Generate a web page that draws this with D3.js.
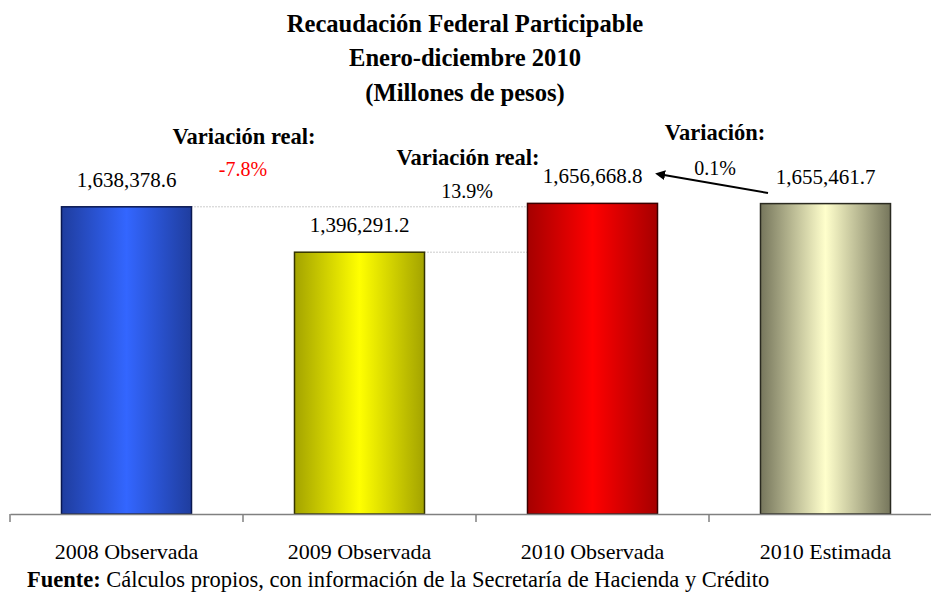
<!DOCTYPE html>
<html>
<head>
<meta charset="utf-8">
<script src="https://cdn.jsdelivr.net/npm/d3@7"></script>
<style>
  body { margin: 0; background: #fff; }
  text { font-family: "Liberation Serif", "DejaVu Serif", serif; fill: #000; }
</style>
</head>
<body>
<div id="graphic"></div>
<script>
(function() {
  var width = 931, height = 594;

  /*** DATA ***/
  var categories = ["2008 Observada", "2009 Observada", "2010 Observada", "2010 Estimada"];
  var values = [1638378.6, 1396291.2, 1656668.8, 1655461.7];
  var titleLines = ["Recaudación Federal Participable", "Enero-diciembre 2010", "(Millones de pesos)"];
  var variations = [
    { label: "Variación real:", value: "-7.8%", color: "#ff0000" },
    { label: "Variación real:", value: "13.9%", color: "#000" },
    { label: "Variación:", value: "0.1%", color: "#000" }
  ];
  // edge / centre colours for each bar's horizontal gradient
  var barColors = [
    { edge: "#1f3d9e", mid: "#3366ff", stroke: "#0a1850" },
    { edge: "#a3a300", mid: "#ffff00", stroke: "#333300" },
    { edge: "#a50000", mid: "#ff0000", stroke: "#3a0000" },
    { edge: "#76765c", mid: "#ffffcc", stroke: "#2a2a20" }
  ];

  var svg = d3.select("#graphic")
    .append("svg")
    .attr("width", width)
    .attr("height", height);

  /*** SCALES ***/
  var x = d3.scaleBand().domain(categories).range([10, 942]).padding(0);
  var y = d3.scaleLinear().domain([0, 2000000]).range([514, 139]);
  var barW = x.bandwidth() * 0.558;

  /*** GRADIENTS ***/
  var defs = svg.append("defs");
  barColors.forEach(function(c, i) {
    var g = defs.append("linearGradient")
      .attr("id", "grad" + i)
      .attr("x1", "0%").attr("x2", "100%").attr("y1", "0%").attr("y2", "0%");
    g.append("stop").attr("offset", "0%").attr("stop-color", c.edge);
    g.append("stop").attr("offset", "50%").attr("stop-color", c.mid);
    g.append("stop").attr("offset", "100%").attr("stop-color", c.edge);
  });

  defs.append("marker")
    .attr("id", "arrowhead")
    .attr("viewBox", "0 0 10 10")
    .attr("refX", 1).attr("refY", 5)
    .attr("markerWidth", 5).attr("markerHeight", 5)
    .attr("orient", "auto-start-reverse")
    .append("path")
    .attr("d", "M0,0 L10,5 L0,10 z")
    .attr("fill", "#000");

  /*** TITLE ***/
  svg.selectAll(".title")
    .data(titleLines).enter().append("text")
    .attr("class", "title")
    .attr("x", 465)
    .attr("y", function(d, i) { return [32, 66, 101][i]; })
    .attr("text-anchor", "middle")
    .style("font-size", "24.6px")
    .style("font-weight", "bold")
    .text(function(d) { return d; });

  /*** DOTTED GUIDE LINES ***/
  svg.append("line")
    .attr("x1", x(categories[0]) + (x.bandwidth() + barW) / 2)
    .attr("x2", x(categories[2]) + (x.bandwidth() - barW) / 2)
    .attr("y1", y(values[0])).attr("y2", y(values[0]))
    .attr("stroke", "#999").attr("stroke-width", 1).attr("stroke-dasharray", "1,2");
  svg.append("line")
    .attr("x1", x(categories[1]) + (x.bandwidth() + barW) / 2)
    .attr("x2", x(categories[2]) + (x.bandwidth() - barW) / 2)
    .attr("y1", y(values[1])).attr("y2", y(values[1]))
    .attr("stroke", "#999").attr("stroke-width", 1).attr("stroke-dasharray", "1,2");

  /*** BARS ***/
  svg.selectAll(".bar")
    .data(values).enter().append("rect")
    .attr("class", "bar")
    .attr("x", function(d, i) { return x(categories[i]) + (x.bandwidth() - barW) / 2; })
    .attr("y", function(d) { return y(d); })
    .attr("width", barW)
    .attr("height", function(d) { return y(0) - y(d); })
    .attr("fill", function(d, i) { return "url(#grad" + i + ")"; })
    .attr("stroke", function(d, i) { return barColors[i].stroke; })
    .attr("stroke-width", 1.5);

  /*** VALUE LABELS ***/
  svg.selectAll(".valLabel")
    .data(values).enter().append("text")
    .attr("class", "valLabel")
    .attr("x", function(d, i) { return x(categories[i]) + x.bandwidth() / 2; })
    .attr("y", function(d) { return y(d) - 20; })
    .attr("text-anchor", "middle")
    .style("font-size", "21px")
    .text(function(d) { return d3.format(",.1f")(d); });

  /*** AXIS ***/
  var axis = svg.append("g")
    .attr("transform", "translate(0," + y(0) + ")")
    .call(d3.axisBottom(x).tickSize(0).tickPadding(29));
  axis.select(".domain").attr("stroke", "#808080").attr("stroke-width", 1.5);
  axis.selectAll(".tick text")
    .style("font-size", "22px")
    .style("font-family", "'Liberation Serif', serif");

  axis.selectAll(".boundTick")
    .data(categories).enter().append("line")
    .attr("class", "boundTick")
    .attr("x1", function(d) { return x(d); })
    .attr("x2", function(d) { return x(d); })
    .attr("y1", 0).attr("y2", 8)
    .attr("stroke", "#808080").attr("stroke-width", 1.5);

  /*** VARIATION ANNOTATIONS ***/
  var annPos = [
    { lx: 244, ly: 144, vx: 243, vy: 176 },
    { lx: 468, ly: 165, vx: 467, vy: 198 },
    { lx: 715, ly: 140, vx: 715, vy: 175 }
  ];
  svg.selectAll(".annLabel")
    .data(variations).enter().append("text")
    .attr("class", "annLabel")
    .attr("x", function(d, i) { return annPos[i].lx; })
    .attr("y", function(d, i) { return annPos[i].ly; })
    .attr("text-anchor", "middle")
    .style("font-size", "22.5px")
    .style("font-weight", "bold")
    .text(function(d) { return d.label; });
  svg.selectAll(".annValue")
    .data(variations).enter().append("text")
    .attr("class", "annValue")
    .attr("x", function(d, i) { return annPos[i].vx; })
    .attr("y", function(d, i) { return annPos[i].vy; })
    .attr("text-anchor", "middle")
    .style("font-size", "20px")
    .style("fill", function(d) { return d.color; })
    .text(function(d) { return d.value; });

  /*** ARROW ***/
  svg.append("line")
    .attr("x1", 768).attr("y1", 193)
    .attr("x2", 664).attr("y2", 175)
    .attr("stroke", "#000").attr("stroke-width", 2)
    .attr("marker-end", "url(#arrowhead)");

  /*** SOURCE NOTE ***/
  var note = svg.append("text")
    .attr("x", 27).attr("y", 587)
    .style("font-size", "22.5px");
  note.append("tspan").style("font-weight", "bold").text("Fuente:");
  note.append("tspan").text(" Cálculos propios, con información de la Secretaría de Hacienda y Crédito");
})();
</script>
</body>
</html>
